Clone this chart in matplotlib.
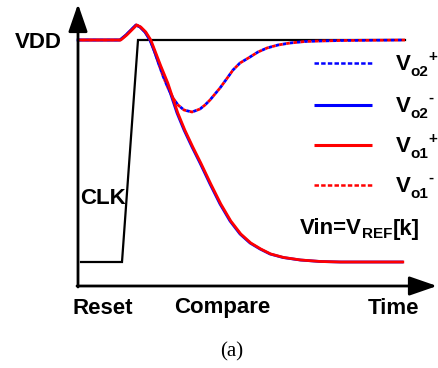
import matplotlib
matplotlib.use("Agg")
import matplotlib.pyplot as plt

plt.rcParams['lines.scale_dashes'] = False

# ---- data (time in px-like units, voltage in inverted px-like units) ----
reset_t = [78, 120, 126, 132, 136, 140, 145, 150]
reset_v = [40, 40, 35, 29, 25, 27, 32, 40]

dot_t = [150, 154, 158, 163, 168, 173, 178, 184, 192, 200, 205, 210, 220, 228,
         233, 240, 250, 258, 267, 278, 290, 305, 320, 340, 405]
dot_v = [40, 50, 62, 76, 88, 98, 105, 110, 112, 109, 105, 100, 88, 77,
         70, 63, 57, 52, 48, 45, 43, 41.5, 41, 40.5, 40]

sol_t = [150, 155, 160, 167, 172, 177, 184, 192, 200, 210, 220, 230, 240, 250,
         260, 270, 283, 300, 320, 340, 402]
sol_v = [40, 53, 66, 83, 98, 113, 130, 147, 163, 184, 204, 221, 234, 243,
         249, 254, 257.5, 260, 261.5, 262, 262]

clk_t = [81, 122, 138, 405]
clk_v = [262, 262, 40, 40]

leg_subs = ['o2', 'o2', 'o1', 'o1']
leg_sups = ['+', '-', '+', '-']

BLUE = '#0000ff'
RED = '#ff0000'
FS = 16

fig = plt.figure(figsize=(4.38, 3.68), dpi=100)
ax = fig.add_axes([0, 0, 1, 1])
ax.set_xlim(0, 438)
ax.set_ylim(368, 0)
ax.axis('off')

# axes arrows
ap = dict(arrowstyle='-|>,head_length=1.3,head_width=0.45', lw=2.0,
          color='black', shrinkA=0, shrinkB=0, mutation_scale=13)
ax.annotate('', xy=(78, 4), xytext=(78, 287), arrowprops=ap)
ax.annotate('', xy=(437, 286), xytext=(77, 286), arrowprops=ap)

# CLK
ax.plot(clk_t, clk_v, color='black', lw=1.6, solid_joinstyle='miter')

# dotted curves (Vo2+, Vo1-) - interleaved dashes
full_dot_t = reset_t + dot_t[1:]
full_dot_v = reset_v + dot_v[1:]
ax.plot(full_dot_t, full_dot_v, color=BLUE, lw=2.0, linestyle=(0, (2.6, 2.6)))
ax.plot(full_dot_t, full_dot_v, color=RED, lw=2.0, linestyle=(2.6, (2.6, 2.6)))

# solid curves (Vo2-, Vo1+)
full_sol_t = reset_t + sol_t[1:]
full_sol_v = reset_v + sol_v[1:]
ax.plot(full_sol_t, full_sol_v, color=BLUE, lw=2.0)
ax.plot([t + 0.8 for t in full_sol_t], full_sol_v, color=RED, lw=2.0)

# legend
rows = [63, 105, 145, 185]
styles = [(BLUE, (3.2, 1.6)), (BLUE, None), (RED, None), (RED, (3.2, 1.6))]
bold = dict(fontweight='bold', family='Liberation Sans')
for y, sub, sup, (c, d) in zip(rows, leg_subs, leg_sups, styles):
    if d is None:
        ax.plot([314, 372], [y, y], color=c, lw=2.2, solid_capstyle='butt')
    else:
        ax.plot([314, 372], [y, y], color=c, lw=1.8, linestyle=(0, d))
    ax.text(396, y + 1, 'V', fontsize=FS, ha='left', va='center', **bold)
    ax.text(410.5, y + 9, sub, fontsize=11, ha='left', va='center', **bold)
    ax.text(428, y - 6 if sup == '+' else y - 7, sup, fontsize=11,
            ha='left', va='center', **bold)

# Vin = VREF[k]
ax.text(300, 229, 'Vin=V', fontsize=FS, ha='left', va='center', **bold)
ax.text(362, 234, 'REF', fontsize=11, ha='left', va='center', **bold)
ax.text(393, 229, '[k]', fontsize=FS, ha='left', va='center', **bold)

ax.text(15, 43, 'VDD', fontsize=FS, ha='left', va='center', **bold)
ax.text(80, 198, 'CLK', fontsize=FS, ha='left', va='center', **bold)
ax.text(73, 308, 'Reset', fontsize=FS, ha='left', va='center', **bold)
ax.text(222, 308, 'Compare', fontsize=FS, ha='center', va='center', **bold)
ax.text(419, 308, 'Time', fontsize=FS, ha='right', va='center', **bold)
ax.text(232, 352, '(a)', ha='center', va='center', fontsize=15,
        family='Liberation Serif')

fig.savefig('out.png', dpi=100)
